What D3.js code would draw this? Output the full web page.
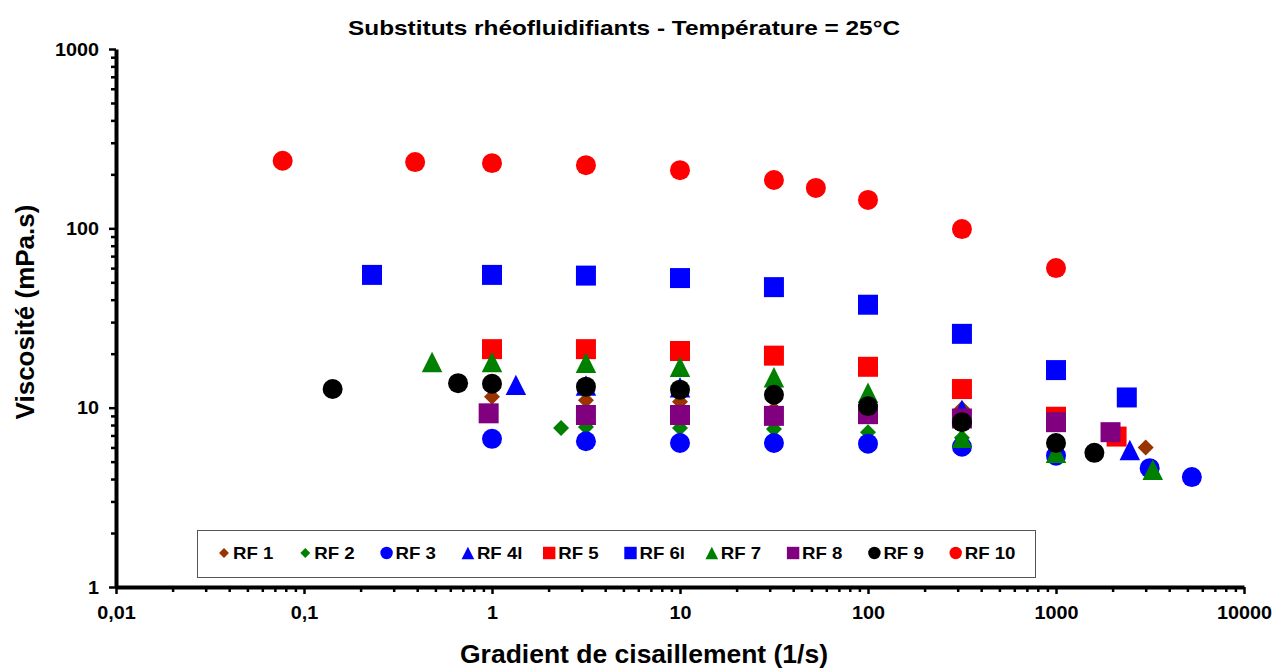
<!DOCTYPE html>
<html>
<head>
<meta charset="utf-8">
<script src="https://cdn.jsdelivr.net/npm/d3@7"></script>
<style>
  body { margin: 0; background: #fff; }
  svg { font-family: "Liberation Sans", Arial, sans-serif; font-weight: bold; }
</style>
</head>
<body>
<div id="chart"></div>
<script>
// data: [shear rate (1/s), viscosity (mPa.s)]
const rf1 = [[1, 11.5], [3.16, 11.0], [10, 10.8], [31.6, 9.8], [100, 9.6], [316, 9.9], [3000, 6.0]];
const rf2 = [[2.33, 7.7], [3.16, 7.8], [10, 7.7], [31.6, 7.6], [100, 7.3], [316, 6.8]];
const rf3 = [[1, 6.7], [3.16, 6.5], [10, 6.35], [31.6, 6.35], [100, 6.3], [316, 6.05], [1000, 5.4], [3150, 4.6], [5280, 4.1]];
const rf4l = [[1.34, 13.4], [3.16, 13.3], [10, 13.0], [316, 9.7], [2470, 5.8]];
const rf5 = [[1, 21.2], [3.16, 21.2], [10, 20.7], [31.6, 19.5], [100, 16.9], [316, 12.7], [1000, 8.9], [2100, 6.9]];
const rf6l = [[0.23, 55], [1, 55], [3.16, 54.5], [10, 52.8], [31.6, 47], [100, 37.5], [316, 25.8], [1000, 16.2], [2380, 11.4]];
const rf7 = [[0.48, 18.0], [1, 18.0], [3.16, 17.8], [10, 16.9], [31.6, 14.8], [100, 12.1], [316, 6.8], [1000, 5.6], [3270, 4.5]];
const rf8 = [[0.96, 9.3], [3.16, 9.1], [10, 9.1], [31.6, 9.0], [100, 9.2], [316, 8.7], [1000, 8.3], [1950, 7.3]];
const rf9 = [[0.142, 12.7], [0.66, 13.7], [1, 13.6], [3.16, 13.1], [10, 12.6], [31.6, 11.8], [100, 10.2], [316, 8.3], [1000, 6.35], [1600, 5.6]];
const rf10 = [[0.077, 238], [0.39, 234], [1, 231], [3.16, 225], [10, 211], [31.6, 186], [52.8, 168], [100, 144], [316, 99], [1000, 60]];

const seriesNames = ["RF 1", "RF 2", "RF 3", "RF 4l", "RF 5", "RF 6l", "RF 7", "RF 8", "RF 9", "RF 10"];
const seriesData = [rf1, rf2, rf3, rf4l, rf5, rf6l, rf7, rf8, rf9, rf10];
const seriesColors = ["#993300", "#008000", "#0000ff", "#0000ff", "#ff0000", "#0000ff", "#008000", "#800080", "#000000", "#ff0000"];
const seriesShapes = ["diamond", "diamond", "circle", "triangle", "square", "square", "triangle", "square", "circle", "circle"];

const xTicks = [0.01, 0.1, 1, 10, 100, 1000, 10000];
const xTickLabels = ["0,01", "0,1", "1", "10", "100", "1000", "10000"];
const yTicks = [1, 10, 100, 1000];
const yTickLabels = ["1", "10", "100", "1000"];

const width = 1276, height = 668;
const margin = { top: 49, right: 32, bottom: 81, left: 116 };
const innerW = width - margin.left - margin.right;
const innerH = height - margin.top - margin.bottom;

// the original text is rendered a little wider than Liberation Sans
const stretch = 1.13;

const svg = d3.select("#chart").append("svg")
  .attr("width", width)
  .attr("height", height);

const g = svg.append("g")
  .attr("transform", `translate(${margin.left},${margin.top})`);

const x = d3.scaleLog().domain([0.01, 10000]).range([0, innerW]);
const y = d3.scaleLog().domain([1, 1000]).range([innerH, 0]);

// minor ticks 2..9 in each decade
function minorTicks(lo, hi) {
  const out = [];
  for (let d = lo; d < hi; d *= 10) {
    for (let k = 2; k <= 9; k++) out.push(d * k);
  }
  return out;
}

// custom marker shapes, Excel style
const triangle = {
  draw(ctx, size) {
    const s = Math.sqrt(size);
    ctx.moveTo(0, -s / 2);
    ctx.lineTo(s / 2, s / 2);
    ctx.lineTo(-s / 2, s / 2);
    ctx.closePath();
  }
};
const diamond = {
  draw(ctx, size) {
    const s = Math.sqrt(size) / 2;
    ctx.moveTo(0, -s);
    ctx.lineTo(s, 0);
    ctx.lineTo(0, s);
    ctx.lineTo(-s, 0);
    ctx.closePath();
  }
};
function symbolFor(shape, scale) {
  if (shape === "circle") return d3.symbol(d3.symbolCircle, 314 * scale * scale);
  if (shape === "square") return d3.symbol(d3.symbolSquare, 400 * scale * scale);
  if (shape === "triangle") return d3.symbol(triangle, 420 * scale * scale);
  return d3.symbol(diamond, 256 * scale * scale);
}

// points
seriesData.forEach((data, i) => {
  g.append("g")
    .selectAll("path")
    .data(data)
    .join("path")
    .attr("transform", d => `translate(${x(d[0])},${y(d[1])})`)
    .attr("d", symbolFor(seriesShapes[i], 1))
    .attr("fill", seriesColors[i]);
});

// X axis
g.append("g")
  .attr("transform", `translate(0,${innerH})`)
  .call(d3.axisBottom(x).tickValues(minorTicks(0.01, 10000)).tickSize(5).tickFormat(""))
  .call(a => a.select(".domain").remove())
  .selectAll("line").attr("stroke-width", 2.5);

g.append("g")
  .attr("transform", `translate(0,${innerH})`)
  .call(d3.axisBottom(x).tickValues(xTicks).tickSize(7).tickSizeOuter(0)
    .tickFormat((d, i) => xTickLabels[i]))
  .call(a => a.select(".domain").attr("stroke-width", 4))
  .call(a => a.selectAll("line").attr("stroke-width", 2.5))
  .call(a => a.selectAll("text")
    .attr("font-size", 17.5)
    .attr("font-family", "'Liberation Sans', Arial, sans-serif")
    .attr("font-weight", "bold")
    .attr("fill", "#000")
    .attr("y", 32.5)
    .attr("dy", null)
    .attr("transform", `scale(${stretch},1)`));

// Y axis
g.append("g")
  .call(d3.axisLeft(y).tickValues(minorTicks(1, 1000)).tickSize(5).tickFormat(""))
  .call(a => a.select(".domain").remove())
  .selectAll("line").attr("stroke-width", 2.5);

g.append("g")
  .call(d3.axisLeft(y).tickValues(yTicks).tickSize(7).tickSizeOuter(0)
    .tickFormat((d, i) => yTickLabels[i]))
  .call(a => a.select(".domain").attr("stroke-width", 4))
  .call(a => a.selectAll("line").attr("stroke-width", 2.5))
  .call(a => a.selectAll("text")
    .attr("font-size", 17.5)
    .attr("font-family", "'Liberation Sans', Arial, sans-serif")
    .attr("font-weight", "bold")
    .attr("fill", "#000")
    .attr("x", -17 / stretch)
    .attr("dy", "0.35em")
    .attr("transform", `scale(${stretch},1)`));

// titles
svg.append("text")
  .attr("x", 348).attr("y", 35)
  .attr("font-size", 20.5)
  .attr("textLength", 552)
  .attr("lengthAdjust", "spacingAndGlyphs")
  .text("Substituts rhéofluidifiants - Température = 25°C");

svg.append("text")
  .attr("x", 460).attr("y", 663)
  .attr("font-size", 25)
  .attr("textLength", 368)
  .attr("lengthAdjust", "spacingAndGlyphs")
  .text("Gradient de cisaillement (1/s)");

svg.append("text")
  .attr("transform", "translate(34,312) rotate(-90)")
  .attr("text-anchor", "middle")
  .attr("font-size", 26)
  .text("Viscosité (mPa.s)");

// legend
const legend = svg.append("g");
legend.append("rect")
  .attr("x", 197.5).attr("y", 530.5)
  .attr("width", 838).attr("height", 47)
  .attr("fill", "#fff")
  .attr("stroke", "#555")
  .attr("stroke-width", 1);

const legendStep = 81.3;
seriesNames.forEach((name, i) => {
  const item = legend.append("g")
    .attr("transform", `translate(${224 + i * legendStep},553)`);
  item.append("path")
    .attr("d", symbolFor(seriesShapes[i], 0.62))
    .attr("fill", seriesColors[i]);
  item.append("text")
    .attr("x", 9 / stretch).attr("y", 6)
    .attr("font-size", 16.5)
    .attr("transform", `scale(${stretch},1)`)
    .text(name);
});
</script>
</body>
</html>
